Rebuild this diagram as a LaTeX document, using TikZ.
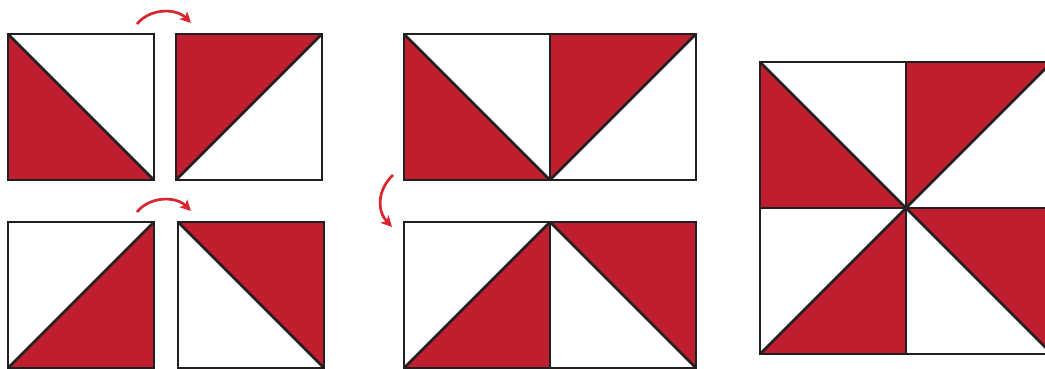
\documentclass[tikz,border=0pt]{standalone}
\usetikzlibrary{arrows.meta}
\definecolor{qred}{HTML}{BE1E2D}
\definecolor{qline}{HTML}{231F20}
\definecolor{qarrow}{HTML}{D8252E}
\tikzset{
  redpart/.style={fill=qred, draw=none},
  edge/.style={draw=qline, line width=2.7pt, line join=miter},
  turn/.style={draw=qarrow, line width=2.7pt, -{Stealth[length=11pt,width=11pt,inset=3pt]}},
}
% cell: #1 = x of left edge, #2 = y of top edge, #3 = type A/B/C/D
\newcommand\hstcell[3]{%
  \begin{scope}[shift={(#1,#2)}]
    \ifx#3A
      \fill[redpart] (0,0) -- (0,146) -- (146,146) -- cycle;
      \draw[edge] (0,0) rectangle (146,146);
      \draw[edge] (0,0) -- (146,146);
    \fi
    \ifx#3B
      \fill[redpart] (0,0) -- (146,0) -- (0,146) -- cycle;
      \draw[edge] (0,0) rectangle (146,146);
      \draw[edge] (0,146) -- (146,0);
    \fi
    \ifx#3C
      \fill[redpart] (0,146) -- (146,146) -- (146,0) -- cycle;
      \draw[edge] (0,0) rectangle (146,146);
      \draw[edge] (0,146) -- (146,0);
    \fi
    \ifx#3D
      \fill[redpart] (0,0) -- (146,0) -- (146,146) -- cycle;
      \draw[edge] (0,0) rectangle (146,146);
      \draw[edge] (0,0) -- (146,146);
    \fi
  \end{scope}}
\begin{document}
\begin{tikzpicture}[x=1pt,y=-1pt]
  \useasboundingbox (0,0) rectangle (1045,369);
  \clip (0,0) rectangle (1045,369);
  \fill[white] (0,0) rectangle (1045,369);
  % left column: separate cells
  \hstcell{8}{34}{A}
  \hstcell{176}{34}{B}
  \hstcell{8}{222}{C}
  \hstcell{178}{222}{D}
  % middle: joined pairs
  \hstcell{404}{34}{A}
  \hstcell{550}{34}{B}
  \hstcell{404}{222}{C}
  \hstcell{550}{222}{D}
  % right: pinwheel block
  \hstcell{760}{62}{A}
  \hstcell{906}{62}{B}
  \hstcell{760}{208}{C}
  \hstcell{906}{208}{D}
  % turning arrows
  \coordinate (t1s) at (137,24);
  \coordinate (t1e) at (191,23);
  \coordinate (t2s) at (137,212);
  \coordinate (t2e) at (191,211);
  \coordinate (vs) at (393,175);
  \coordinate (ve) at (392,227);
  \draw[turn] (t1s) .. controls (150,8) and (176,8) .. (t1e);
  \draw[turn] (t2s) .. controls (150,196) and (176,196) .. (t2e);
  \draw[turn] (vs) .. controls (377,190) and (377,211) .. (ve);
\end{tikzpicture}
\end{document}
